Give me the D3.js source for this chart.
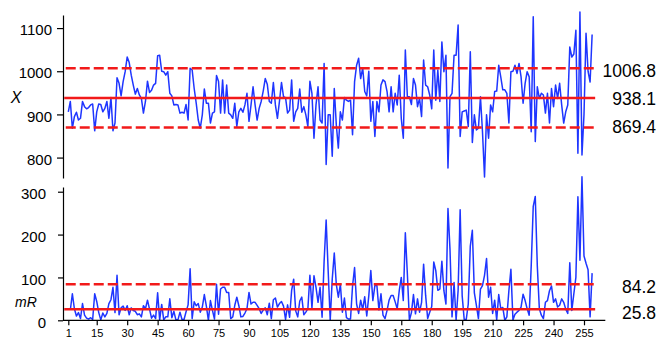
<!DOCTYPE html>
<html><head><meta charset="utf-8">
<script src="https://cdn.jsdelivr.net/npm/d3@7"></script>
<style>body{margin:0;background:#fff}svg{display:block}</style>
</head><body>
<svg id="c" width="668" height="359"></svg>
<script>
// Individual values X (observations 1..259)
const xValues = [
906,930,868,895,905,887,891,930,918,913,
916,922,924,862,906,924,923,906,914,930,
891,939,862,880,985,972,943,976,999,1033,
1020,991,968,947,960,945,937,903,930,977,
951,956,968,972,1036,1037,1000,999,991,999,
949,943,922,923,922,903,905,903,923,887,
1007,1003,960,926,887,868,899,959,926,926,
880,903,906,990,976,903,980,903,968,903,
899,891,926,872,906,914,905,922,949,884,
922,964,922,887,914,930,954,983,970,930,
926,974,922,891,930,974,941,939,903,910,
980,884,906,914,959,905,918,899,872,977,
949,845,922,964,887,880,1018,784,899,899,
803,960,876,822,906,887,939,933,930,933,
853,976,1014,1030,983,1008,953,943,1000,884,
930,849,930,906,968,980,976,953,906,964,
906,949,922,991,891,845,1049,941,941,923,
983,968,918,937,895,1026,968,964,945,913,
1049,933,1003,930,1068,999,1037,776,941,949,
1037,1037,1107,849,906,908,910,872,1045,835,
899,864,868,941,860,755,899,845,922,906,
953,954,1014,987,957,957,949,880,999,1000,
1014,995,1018,987,926,972,999,987,860,1126,
837,964,937,949,945,903,949,880,960,918,
968,937,972,922,880,906,922,1056,1033,1040,
1095,810,1137,806,900,1088,1000,975,1085
];
// Moving ranges mR (observations 2..259)
const mrValues = [
24,62,27,10,18,4,39,12,5,3,
6,2,62,44,18,1,17,8,16,39,
48,77,18,105,13,29,33,23,34,13,
29,23,21,13,15,8,34,27,47,26,
5,12,4,64,1,37,1,8,8,50,
6,21,1,1,19,2,2,20,36,120,
4,43,34,39,19,31,60,33,0,46,
23,3,84,14,73,77,77,65,65,4,
8,35,54,34,8,9,17,27,65,38,
42,42,35,27,16,24,29,13,40,4,
48,52,31,39,44,33,2,36,7,70,
96,22,8,45,54,13,19,27,105,28,
104,77,42,77,7,138,234,115,0,96,
157,84,54,84,19,52,6,3,3,80,
123,38,16,47,25,55,10,57,116,46,
81,81,24,62,12,4,23,47,58,58,
43,27,69,100,46,204,108,0,18,60,
15,50,19,42,131,58,4,19,32,136,
116,70,73,138,69,38,261,165,8,88,
0,70,258,57,2,2,38,173,210,64,
35,4,73,81,105,144,54,77,16,47,
1,60,27,30,0,8,69,119,1,14,
19,23,31,61,46,27,12,127,266,289,
127,27,12,4,42,46,69,80,42,50,
31,35,50,42,26,16,134,23,62,100,
288,140,335,150,133,118,8,110
];
const xTicks = [1,15,30,45,60,75,90,105,120,135,150,165,180,195,210,225,240,255];
const xChartTicks = [800,900,1000,1100];
const mrChartTicks = [0,100,200,300];
const xLimitValues = [1006.8, 938.1, 869.4];
const xLimitTypes = ["ucl","cl","lcl"];
const xLimitLabels = ["1006.8","938.1","869.4"];
const mrLimitValues = [84.2, 25.8];
const mrLimitTypes = ["ucl","cl"];
const mrLimitLabels = ["84.2","25.8"];

const svg = d3.select("#c");
const FONT = "'Liberation Sans', Arial, Helvetica, sans-serif";
const BLUE = "#1e35ff", RED = "#f21a1a";
const axisX = 63;

const x = d3.scaleLinear().domain([1, 255]).range([68.3, 584]);
const yX = d3.scaleLinear().domain([752.7, 1130.3]).range([178, 15]);
const yM = d3.scaleLinear().domain([0, 311]).range([320.3, 187]);

const xData = xValues.map((v, i) => ({i: i + 1, v}));
const mrData = mrValues.map((v, i) => ({i: i + 2, v}));

// data lines
svg.append("path").datum(xData)
  .attr("fill", "none").attr("stroke", BLUE).attr("stroke-width", 1.5)
  .attr("stroke-linejoin", "round")
  .attr("d", d3.line().x(d => x(d.i)).y(d => yX(d.v)));
svg.append("path").datum(mrData)
  .attr("fill", "none").attr("stroke", BLUE).attr("stroke-width", 1.5)
  .attr("stroke-linejoin", "round")
  .attr("d", d3.line().x(d => x(d.i)).y(d => yM(d.v)));

// control limits
function limits(vals, types, labels, yS, labelShift) {
  vals.forEach((v, k) => {
    svg.append("line")
      .attr("x1", x(-1)).attr("x2", x(260.5))
      .attr("y1", yS(v)).attr("y2", yS(v))
      .attr("stroke", RED).attr("stroke-width", 2.5)
      .attr("stroke-dasharray", types[k] === "cl" ? null : "10,4")
      .attr("stroke-dashoffset", types[k] === "cl" ? null : -1.5);
    svg.append("text")
      .attr("x", 656).attr("y", yS(v) + labelShift[k])
      .attr("text-anchor", "end").attr("dominant-baseline", "central")
      .attr("font-family", FONT).attr("font-size", 17.5).attr("fill", "#000")
      .text(labels[k]);
  });
}
limits(xLimitValues, xLimitTypes, xLimitLabels, yX, [2.5, 1, -1]);
limits(mrLimitValues, mrLimitTypes, mrLimitLabels, yM, [3, 4]);

// axes
const fmt = d3.format("d");
const gY1 = svg.append("g").attr("transform", `translate(${axisX},0)`)
  .call(d3.axisLeft(yX).tickValues(xChartTicks).tickFormat(fmt).tickSize(6).tickPadding(5).tickSizeOuter(0));
const gY2 = svg.append("g").attr("transform", `translate(${axisX},0)`)
  .call(d3.axisLeft(yM).tickValues(mrChartTicks).tickFormat(fmt).tickSize(5).tickPadding(12).tickSizeOuter(0));
[gY1, gY2].forEach(g => {
  g.selectAll("text").attr("font-family", FONT).attr("font-size", 15).attr("fill", "#000").attr("dy", "0.45em");
  g.selectAll("line,path").attr("stroke", "#000").attr("stroke-width", 1.2);
});

const gX = svg.append("g").attr("transform", `translate(0,${yM(0)})`)
  .call(d3.axisBottom(x).tickValues(xTicks).tickFormat(fmt).tickSize(5).tickPadding(4).tickSizeOuter(0));
gX.select(".domain").remove();
gX.append("line").attr("x1", axisX).attr("x2", x(265.5)).attr("y1", 0).attr("y2", 0)
  .attr("stroke", "#000").attr("stroke-width", 1.2);
gX.selectAll("line").attr("stroke", "#000").attr("stroke-width", 1.2);
gX.selectAll("text").attr("font-family", FONT).attr("font-size", 11).attr("fill", "#000");

// axis titles
svg.append("text").attr("x", 16).attr("y", 97).attr("text-anchor", "middle")
  .attr("dominant-baseline", "central")
  .attr("font-family", FONT).attr("font-size", 16).attr("font-style", "italic").text("X");
svg.append("text").attr("x", 26).attr("y", 302).attr("text-anchor", "middle")
  .attr("dominant-baseline", "central")
  .attr("font-family", FONT).attr("font-size", 14).attr("font-style", "italic").text("mR");
</script>
</body></html>
